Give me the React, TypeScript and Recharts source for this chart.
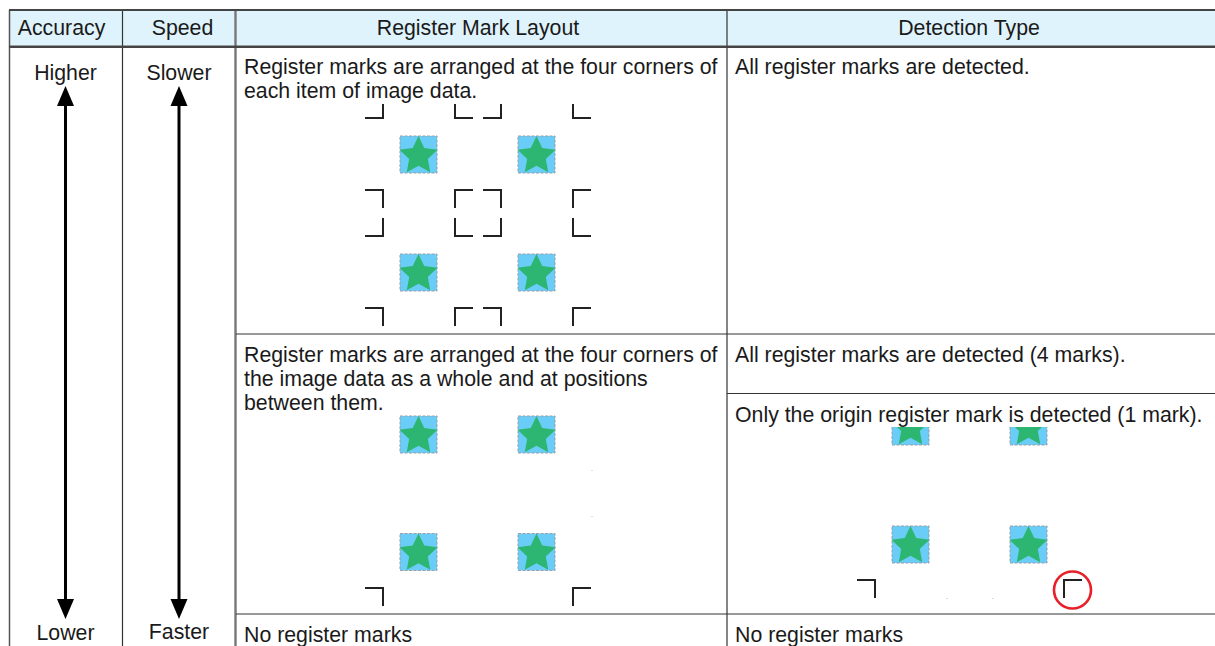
import React from "react";
import { ScatterChart, Scatter, XAxis, YAxis, ReferenceLine, ReferenceArea } from "recharts";

const W = 1215;
const H = 646;
const INK = "#1a1a1a";

const headers = [
  { x: 61.5, y: 35, text: "Accuracy", anchor: "middle" },
  { x: 182.5, y: 35, text: "Speed", anchor: "middle" },
  { x: 478, y: 35, text: "Register Mark Layout", anchor: "middle" },
  { x: 969, y: 35, text: "Detection Type", anchor: "middle" },
];
const scaleLabels = [
  { x: 65.5, y: 80, text: "Higher", anchor: "middle" },
  { x: 179, y: 80, text: "Slower", anchor: "middle" },
  { x: 65.5, y: 640, text: "Lower", anchor: "middle" },
  { x: 179, y: 639, text: "Faster", anchor: "middle" },
];
const layoutText = [
  { x: 244, y: 74, text: "Register marks are arranged at the four corners of", anchor: "start" },
  { x: 244, y: 98, text: "each item of image data.", anchor: "start" },
  { x: 244, y: 362, text: "Register marks are arranged at the four corners of", anchor: "start" },
  { x: 244, y: 386, text: "the image data as a whole and at positions", anchor: "start" },
  { x: 244, y: 410, text: "between them.", anchor: "start" },
  { x: 244, y: 642, text: "No register marks", anchor: "start" },
];
const detectionText = [
  { x: 735, y: 74, text: "All register marks are detected.", anchor: "start" },
  { x: 735, y: 362, text: "All register marks are detected (4 marks).", anchor: "start" },
  { x: 735, y: 422, text: "Only the origin register mark is detected (1 mark).", anchor: "start" },
  { x: 735, y: 642, text: "No register marks", anchor: "start" },
];
const tiles = [
  { x: 418.5, y: 154.5 },
  { x: 536.5, y: 154.5 },
  { x: 418.5, y: 272.5 },
  { x: 536.5, y: 272.5 },
  { x: 418.5, y: 434.5 },
  { x: 536.5, y: 434.5 },
  { x: 418.5, y: 552 },
  { x: 536.5, y: 552 },
  { x: 910.5, y: 426.5, cut: 427 },
  { x: 1028.5, y: 426.5, cut: 427 },
  { x: 910.5, y: 544.5 },
  { x: 1028.5, y: 544.5 },
];
const marks = [
  { x: 383, y: 118, kind: "br", cut: 104 },
  { x: 455, y: 118, kind: "bl", cut: 104 },
  { x: 501, y: 118, kind: "br", cut: 104 },
  { x: 573, y: 118, kind: "bl", cut: 104 },
  { x: 383, y: 190, kind: "tr" },
  { x: 455, y: 190, kind: "tl" },
  { x: 501, y: 190, kind: "tr" },
  { x: 573, y: 190, kind: "tl" },
  { x: 383, y: 236, kind: "br" },
  { x: 455, y: 236, kind: "bl" },
  { x: 501, y: 236, kind: "br" },
  { x: 573, y: 236, kind: "bl" },
  { x: 383, y: 308, kind: "tr" },
  { x: 455, y: 308, kind: "tl" },
  { x: 501, y: 308, kind: "tr" },
  { x: 573, y: 308, kind: "tl" },
  { x: 383, y: 588, kind: "tr" },
  { x: 573, y: 588, kind: "tl" },
  { x: 875, y: 580, kind: "tr" },
  { x: 1064, y: 580, kind: "tl" },
];
const origin = [{ x: 1072.5, y: 590 }];
const arrowHeads = [
  { x: 65.5, y: 86, dir: -1 },
  { x: 179, y: 86, dir: -1 },
  { x: 65.5, y: 619, dir: 1 },
  { x: 179, y: 619, dir: 1 },
];
const specks = [
  { x: 591, y: 470 },
  { x: 591, y: 516 },
  { x: 946, y: 598 },
  { x: 992, y: 598 },
];
const arrowShafts = [
  { x: 65.5, y1: 104, y2: 601 },
  { x: 179, y1: 104, y2: 601 },
];
const verticalRules = [
  { x: 9.5, y1: 10, y2: 646, w: 1.5, c: "#555" },
  { x: 122.5, y1: 10, y2: 646, w: 1.2, c: "#333" },
  { x: 235.5, y1: 10, y2: 646, w: 2.4, c: "#777" },
  { x: 727, y1: 10, y2: 646, w: 1.2, c: "#333" },
];
const horizontalRules = [
  { y: 10, x1: 9, x2: 1215, w: 2, c: "#444" },
  { y: 46.8, x1: 9, x2: 1215, w: 2.6, c: "#444" },
  { y: 334, x1: 236, x2: 1215, w: 1.2, c: "#333" },
  { y: 393.5, x1: 727, x2: 1215, w: 1.2, c: "#333" },
  { y: 614, x1: 236, x2: 1215, w: 1.2, c: "#333" },
];

let clipSeq = 0;

function TextShape(props: any) {
  const d = props.payload ?? props;
  return (
    <text x={props.cx} y={props.cy} textAnchor={d.anchor} fontFamily="'Liberation Sans', Arial, sans-serif" fontSize={21.3} fill={INK}>
      {d.text}
    </text>
  );
}

function TileShape(props: any) {
  const d = props.payload ?? props;
  const { cx, cy } = props;
  const half = 18.5;
  const pts: string[] = [];
  for (let i = 0; i < 10; i++) {
    const r = i % 2 === 0 ? 20 : 9.8;
    const a = -Math.PI / 2 + (i * Math.PI) / 5;
    pts.push(`${cx + r * Math.cos(a)},${cy + 1.5 + r * Math.sin(a)}`);
  }
  const id = `tile-clip-${clipSeq++}`;
  const top = d.cut != null ? cy + (d.cut - d.y) : cy - half - 2;
  return (
    <g>
      <clipPath id={id}>
        <rect x={cx - 30} y={top} width={60} height={cy + 30 - top} />
      </clipPath>
      <g clipPath={`url(#${id})`}>
        <rect x={cx - half} y={cy - half} width={half * 2} height={half * 2} fill="#69CDF7" stroke="#9A9FA8" strokeWidth={1} strokeDasharray="3 1.5" />
        <polygon points={pts.join(" ")} fill="#2CB672" />
      </g>
    </g>
  );
}

function MarkShape(props: any) {
  const d = props.payload ?? props;
  const { cx, cy } = props;
  const arm = 18;
  const sx = d.kind.endsWith("r") ? -1 : 1;
  const sy = d.kind.startsWith("b") ? -1 : 1;
  let vEnd = cy + sy * arm;
  if (d.cut != null) vEnd = cy + (d.cut - d.y);
  return (
    <path
      d={`M${cx + sx * arm} ${cy}H${cx}V${vEnd}`}
      fill="none"
      stroke="#222"
      strokeWidth={2}
      strokeLinecap="butt"
    />
  );
}

function ArrowHead(props: any) {
  const d = props.payload ?? props;
  const { cx, cy } = props;
  const back = cy - d.dir * 20;
  return <polygon points={`${cx},${cy} ${cx - 8.5},${back} ${cx + 8.5},${back}`} fill="#000" />;
}

function OriginRing(props: any) {
  return <circle cx={props.cx} cy={props.cy} r={18.5} fill="none" stroke="#E8202A" strokeWidth={2.6} />;
}

function Speck(props: any) {
  return <rect x={props.cx} y={props.cy} width={2} height={1} fill="#ddd" />;
}

export default function App() {
  clipSeq = 0;
  return (
    <div style={{ position: "absolute", left: 0, top: 0, width: W, height: H, background: "#fff", overflow: "hidden" }}>
      <ScatterChart width={W} height={H} margin={{ top: 0, right: 0, bottom: 0, left: 0 }}>
        <XAxis type="number" dataKey="x" domain={[0, W]} hide allowDataOverflow />
        <YAxis type="number" dataKey="y" domain={[0, H]} reversed hide allowDataOverflow width={0} />
        <ReferenceArea x1={10} x2={W} y1={11} y2={45.5} fill="#DFF3FC" fillOpacity={1} stroke="none" ifOverflow="visible" />
        {verticalRules.map((r, i) => (
          <ReferenceLine key={`v${i}`} segment={[{ x: r.x, y: r.y1 }, { x: r.x, y: r.y2 }]} stroke={r.c} strokeWidth={r.w} ifOverflow="visible" />
        ))}
        {horizontalRules.map((r, i) => (
          <ReferenceLine key={`h${i}`} segment={[{ x: r.x1, y: r.y }, { x: r.x2, y: r.y }]} stroke={r.c} strokeWidth={r.w} ifOverflow="visible" />
        ))}
        {arrowShafts.map((r, i) => (
          <ReferenceLine key={`a${i}`} segment={[{ x: r.x, y: r.y1 }, { x: r.x, y: r.y2 }]} stroke="#000" strokeWidth={3} ifOverflow="visible" />
        ))}
        <Scatter data={arrowHeads} shape={ArrowHead} isAnimationActive={false} />
        <Scatter data={tiles} shape={TileShape} isAnimationActive={false} />
        <Scatter data={marks} shape={MarkShape} isAnimationActive={false} />
        <Scatter data={origin} shape={OriginRing} isAnimationActive={false} />
        <Scatter data={specks} shape={Speck} isAnimationActive={false} />
        <Scatter data={headers} shape={TextShape} isAnimationActive={false} />
        <Scatter data={scaleLabels} shape={TextShape} isAnimationActive={false} />
        <Scatter data={layoutText} shape={TextShape} isAnimationActive={false} />
        <Scatter data={detectionText} shape={TextShape} isAnimationActive={false} />
      </ScatterChart>
    </div>
  );
}
